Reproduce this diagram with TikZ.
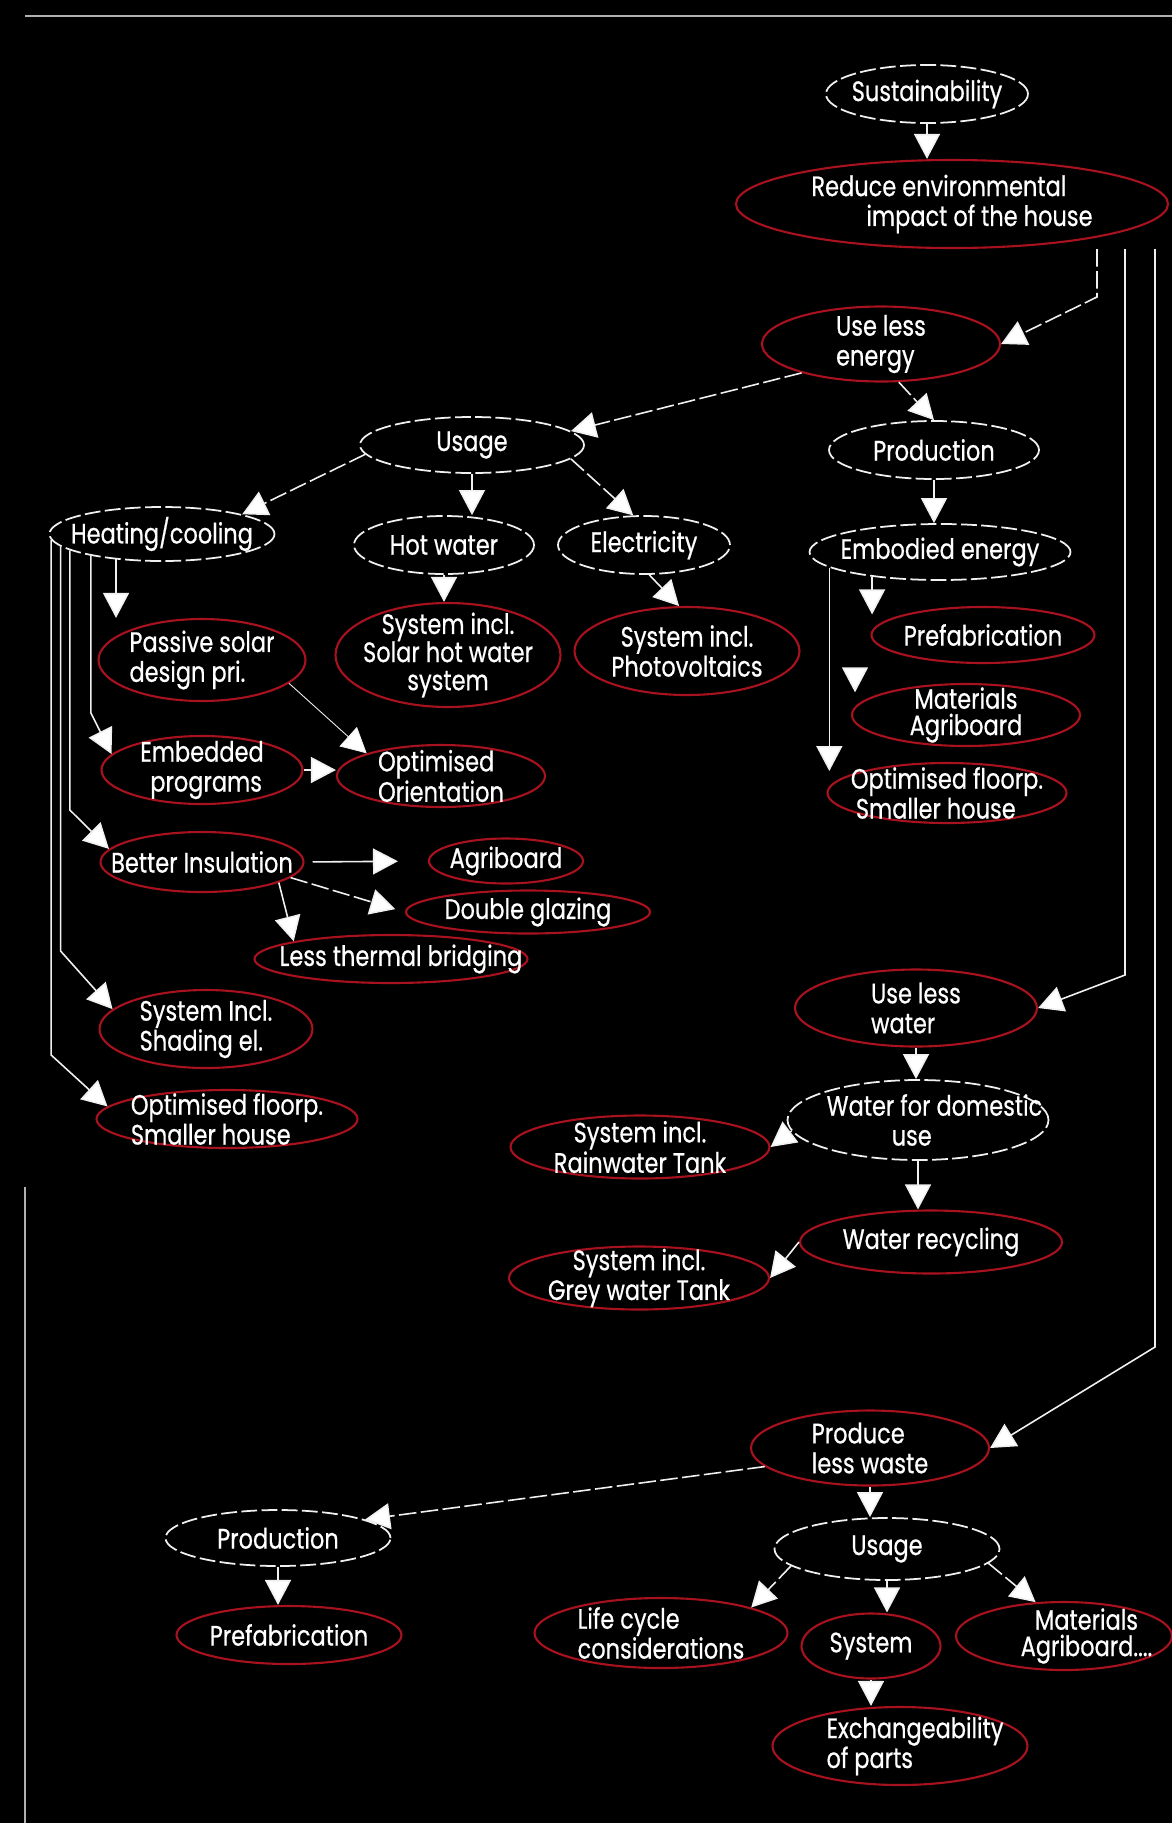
\documentclass[tikz,border=0pt]{standalone}
\usepackage{fontspec}
\setmainfont{Poppins}[FakeStretch=0.8,FakeBold=0.6]
\usetikzlibrary{shapes.geometric,arrows.meta}
\definecolor{bubred}{HTML}{A8121E}
\definecolor{linewhite}{HTML}{F0F0F0}
\definecolor{rulegray}{HTML}{B0B0B0}

\begin{document}
\begin{tikzpicture}[x=0.02cm, y=-0.02cm,
    bub/.style 2 args={ellipse, inner sep=0pt, minimum width=#1*0.02cm, minimum height=#2*0.02cm},
    wbub/.style 2 args={bub={#1}{#2}, draw=linewhite, line width=1pt, dash pattern=on 9pt off 2.5pt},
    rbub/.style 2 args={bub={#1}{#2}, draw=bubred, line width=1.2pt},
    txt/.style={text=white, inner sep=0pt, font=\fontsize{16}{17}\selectfont},
    tight/.style={font=\fontsize{16}{15}\selectfont},
    arr/.style={draw=linewhite, line width=0.9pt, -{Triangle[length=0.5cm,width=0.52cm,fill=white]}},
    dsh/.style={dash pattern=on 10pt off 2.5pt}]
\fill[black] (0,0) rectangle (1172,1823);
\useasboundingbox (0,0) rectangle (1172,1823);

% frame lines
\draw[rulegray, line width=1.2pt] (25,16) -- (1172,16);
\draw[rulegray, line width=1.2pt] (25,1187) -- (25,1823);

% top of the tree
\node[wbub={202}{58}, label={[txt]center:Sustainability}] (sus) at (927,94) {};
\node[rbub={432}{88}, label={[txt,align=left]center:Reduce environmental\\\hspace*{1.1cm}impact of the house}] (red) at (952,204) {};

% energy
\node[rbub={238}{75}, label={[txt,align=left]center:Use less\\energy}] (ule) at (881,344) {};
\node[wbub={224}{56}, label={[txt]center:Usage}] (usg1) at (472,445) {};
\node[wbub={210}{58}, label={[txt]center:Production}] (prod1) at (934,450) {};
\node[wbub={225}{54}, label={[txt]center:Heating/cooling}] (heat) at (162,534) {};
\node[wbub={180}{58}, label={[txt]center:Hot water}] (hw) at (444,545) {};
\node[wbub={172}{58}, label={[txt]center:Electricity}] (elec) at (644,545) {};
\node[wbub={261}{56}, label={[txt]center:Embodied energy}] (emb) at (940,552) {};
\node[rbub={207}{82}, label={[txt,align=left]center:Passive solar\\design pri.}] (pas) at (202,660) {};
\node[rbub={225}{104}, label={[txt,align=center,font=\fontsize{16}{16}\selectfont]center:System incl.\\Solar hot water\\system}] (shw) at (448,655) {};
\node[rbub={225}{88}, label={[txt,align=center]center:System incl.\\Photovoltaics}] (pv) at (687,651) {};
\node[rbub={223}{56}, label={[txt]center:Prefabrication}] (pref1) at (983,635) {};
\node[rbub={228}{62}, label={[txt,tight,align=center]center:Materials\\Agriboard}] (mat1) at (966,715) {};
\node[rbub={239}{60}, label={[txt,tight,align=left]center:Optimised floorp.\\\hspace*{0.1cm}Smaller house}] (opt1) at (947,793) {};
\node[rbub={201}{68}, label={[txt,align=left]center:Embedded\\\hspace*{0.2cm}programs}] (embp) at (202,770) {};
\node[rbub={208}{62}, label={[txt,tight,align=left]center:Optimised\\Orientation}] (ori) at (441,776) {};
\node[rbub={203}{60}, label={[txt]center:Better Insulation}] (ins) at (202,862) {};
\node[rbub={154}{45}, label={[txt]center:Agriboard}] (agri) at (506,861) {};
\node[rbub={244}{43}, label={[txt]center:Double glazing}] (dg) at (528,912) {};
\node[rbub={273}{48}, label={[txt,xshift=0.2cm]center:Less thermal bridging}] (ltb) at (391,959) {};
\node[rbub={213}{78}, label={[txt,align=left]center:System Incl.\\Shading el.}] (shd) at (206,1029) {};
\node[rbub={261}{58}, label={[txt,tight,align=left]center:Optimised floorp.\\Smaller house}] (opt2) at (227,1119) {};

% water
\node[rbub={242}{77}, label={[txt,align=left]center:Use less\\water}] (ulw) at (916,1008) {};
\node[wbub={261}{80}, label={[txt,align=left,xshift=0.33cm]center:Water for domestic\\\hspace*{1.3cm}use}] (wdu) at (918,1120) {};
\node[rbub={259}{63}, label={[txt,tight,align=center]center:System incl.\\Rainwater Tank}] (rwt) at (640,1147) {};
\node[rbub={262}{63}, label={[txt]center:Water recycling}] (wrec) at (931,1242) {};
\node[rbub={260}{63}, label={[txt,tight,align=center]center:System incl.\\Grey water Tank}] (gwt) at (639,1278) {};

% waste
\node[rbub={238}{75}, label={[txt,align=left]center:Produce\\less waste}] (plw) at (870,1448) {};
\node[wbub={225}{56}, label={[txt]center:Production}] (prod2) at (278,1538) {};
\node[rbub={225}{58}, label={[txt]center:Prefabrication}] (pref2) at (289,1635) {};
\node[wbub={225}{62}, label={[txt]center:Usage}] (usg2) at (887,1549) {};
\node[rbub={253}{70}, label={[txt,align=left]center:Life cycle\\considerations}] (lcc) at (661,1633) {};
\node[rbub={139}{65}, label={[txt]center:System}] (sys) at (871,1646) {};
\node[rbub={216}{68}, label={[txt,tight,align=center,xshift=0.45cm]center:Materials\\Agriboard....}] (mat2) at (1064,1636) {};
\node[rbub={255}{78}, label={[txt,align=left,xshift=0.3cm]center:Exchangeability\\of parts}] (exch) at (900,1746) {};

% bends of the three long lines on the right
\coordinate (toEnergy) at (1097,297);
\coordinate (toWater) at (1125,975);
\coordinate (toWaste) at (1155,1347);
\coordinate (matTip) at (855,670);

\draw[arr] (sus) -- (sus |- red.north);
\draw[arr,dsh] (toEnergy |- red.south) -- (toEnergy) -- (ule.east);
\draw[arr] (toWater |- red.south) -- (toWater) -- (ulw.east);
\draw[arr] (toWaste |- red.south) -- (toWaste) -- (plw.east);

% energy arrows
\draw[arr,dsh] (ule.200) -- (usg1.8);
\draw[arr,dsh] (ule.-65) -- (prod1.north);
\draw[arr] (prod1) -- (prod1 |- emb.north);
\draw[arr] (emb.200) -- (emb.200 |- pref1.north west);
\draw[arr] (matTip) -- (matTip |- mat1.north west);
\draw[arr] (emb.188) -- (emb.188 |- opt1.north west);
\draw[arr,dsh] (usg1.185) -- (heat.north east);
\draw[arr] (usg1) -- (usg1 |- hw.north);
\draw[arr,dsh] (usg1.-8) -- (elec.110);
\draw[arr] (hw) -- (hw |- shw.north);
\draw[arr] (elec.-80) -- (pv.100);

% heating/cooling fan of lines
\draw[arr] (heat.209) -- (heat.209 |- pas.north);
\foreach \a/\y/\t in {197/713/embp.170, 190/810/ins.172, 187/951/shd.168, 183/1055/opt2.174}
  \draw[arr] (heat.\a) -- (heat.\a |- 0,\y) -- (\t);
\draw[arr,line width=0.5pt] (pas.-15) -- (ori.north west);
\draw[arr] (embp.east) -- (embp.east -| ori.west);
\draw[arr,shorten <=0.16cm,shorten >=0.6cm] (ins.east) -- (agri.west);
\draw[arr,dsh,shorten >=0.2cm] (ins.-10) -- (dg.west);
\draw[arr] (ins.-15) -- (ltb.north west);

% water arrows
\draw[arr] (ulw) -- (ulw |- wdu.north);
\draw[arr] (wdu.185) -- (rwt.east);
\draw[arr] (wdu) -- (wdu |- wrec.north);
\draw[arr] (wrec.west) -- (gwt.east);

% waste arrows
\draw[arr,dsh] (plw.190) -- (prod2.12);
\draw[arr] (prod2) -- (prod2 |- pref2.north);
\draw[arr] (plw) -- (plw |- usg2.north);
\draw[arr,dsh] (usg2.190) -- (lcc.north east);
\draw[arr] (usg2) -- (usg2 |- sys.north);
\draw[arr,dsh] (usg2.-8) -- (mat2.130);
\draw[arr] (sys) -- (sys |- exch.north);
\end{tikzpicture}
\end{document}
